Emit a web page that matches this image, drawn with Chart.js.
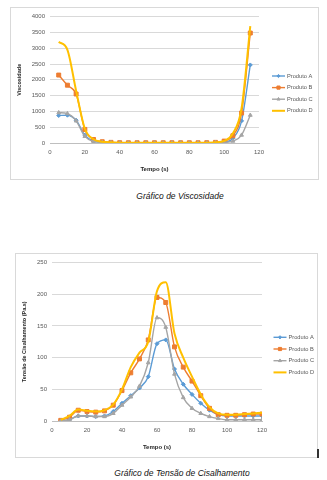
<!DOCTYPE html>
<html>
<head>
<meta charset="utf-8">
<script src="https://cdn.jsdelivr.net/npm/chart.js@4/dist/chart.umd.min.js"></script>
<style>
  body{margin:0;width:327px;height:480px;background:#fff;position:relative;overflow:hidden;font-family:"Liberation Sans",Arial,sans-serif;}
  .quadro{position:absolute;border:1px solid #d9d9d9;background:#fff;box-sizing:border-box;}
  .legenda{position:absolute;font-style:italic;font-size:8.5px;color:#111;white-space:nowrap;transform:translateX(-50%);}
  #marca{position:absolute;left:317px;top:449px;width:2px;height:9px;background:#333;}
</style>
</head>
<body>
<div class="quadro" id="q1" style="left:10px;top:7px;width:309px;height:173px;"><canvas id="visc"></canvas></div>
<div class="legenda" style="left:180px;top:191px;">Gráfico de Viscosidade</div>
<div class="quadro" id="q2" style="left:15px;top:253px;width:303px;height:205px;"><canvas id="tensao"></canvas></div>
<div class="legenda" style="left:182px;top:468px;">Gráfico de Tensão de Cisalhamento</div>
<div id="marca"></div>
<script>
// dados
const tempoVisc = [5,10,15,20,25,30,35,40,45,50,55,60,65,70,75,80,85,90,95,100,105,110,115];
const viscA = [870,880,720,250,60,20,10,8,5,5,5,5,5,5,5,5,5,8,10,20,150,700,2470];
const viscB = [2150,1830,1550,430,110,40,20,10,8,8,8,8,8,8,8,8,8,10,20,60,230,950,3480];
const viscC = [960,930,700,210,50,20,10,5,5,5,5,5,5,5,5,5,5,5,10,20,60,250,880];
const viscD = [3200,2950,1650,450,120,40,20,10,8,8,8,8,8,8,8,8,8,10,20,70,300,1100,3700];

const tempoTensao = [5,10,15,20,25,30,35,40,45,50,55,60,65,70,75,80,85,90,95,100,105,110,115,120];
const tensaoA = [0,2,8,8,7,8,15,28,40,52,70,122,128,82,58,42,28,17,10,8,8,8,8,8];
const tensaoB = [1,6,17,15,14,16,25,48,76,98,128,195,187,117,85,63,40,20,10,9,9,10,11,11];
const tensaoC = [0,2,8,8,7,7,12,25,38,55,92,163,148,74,37,20,12,7,4,2,2,2,2,2];
const tensaoD = [2,8,18,16,15,17,26,50,85,108,125,205,219,138,100,70,42,22,12,10,10,11,12,13];

const produtos = ["Produto A","Produto B","Produto C","Produto D"];
const cores = ["#5B9BD5","#ED7D31","#A5A5A5","#FFC000"];
const marcadores = ["rectRot","rect","triangle",false];
const raios = [2,2.8,2.2,0];

const fonte = {family:"'Liberation Sans', Arial, sans-serif", size:6};

function series(tempo, valores){
  return valores.map((v,i)=>({
    label: produtos[i],
    data: tempo.map((t,j)=>({x:t,y:v[j]})),
    borderColor: cores[i],
    backgroundColor: cores[i],
    borderWidth: i==3 ? 2 : 1.4,
    pointStyle: marcadores[i],
    pointRadius: raios[i],
    pointBorderWidth: 1,
    cubicInterpolationMode: "monotone",
    order: 3-i
  }));
}

// legenda no estilo do Excel (linha com marcador)
const legendaLateral = {
  id: "legendaLateral",
  afterDraw(chart, args, opts){
    const ctx = chart.ctx;
    ctx.save();
    chart.data.datasets.forEach((ds,i)=>{
      const y = opts.y + i*opts.gap;
      ctx.strokeStyle = ds.borderColor;
      ctx.lineWidth = ds.borderWidth;
      ctx.beginPath();
      ctx.moveTo(opts.x, y);
      ctx.lineTo(opts.x+13, y);
      ctx.stroke();
      if(ds.pointStyle){
        ctx.fillStyle = ds.backgroundColor;
        ctx.strokeStyle = ds.borderColor;
        ctx.lineWidth = 1;
        Chart.helpers.drawPoint(ctx,{pointStyle:ds.pointStyle,radius:ds.pointRadius*0.8,borderWidth:1,rotation:0},opts.x+6.5,y);
      }
      ctx.fillStyle = "#595959";
      ctx.font = "5.7px 'Liberation Sans', Arial, sans-serif";
      ctx.textBaseline = "middle";
      ctx.fillText(ds.label, opts.x+15, y);
    });
    ctx.restore();
  }
};

function grafico(id, tempo, valores, cfg){
  new Chart(document.getElementById(id),{
    type: "line",
    data: {datasets: series(tempo, valores)},
    plugins: [legendaLateral],
    options: {
      responsive: false,
      animation: false,
      layout: {padding: cfg.padding},
      plugins: {
        legend: {display:false},
        tooltip: {enabled:false},
        legendaLateral: cfg.legenda
      },
      scales: {
        x: {
          type: "linear",
          min: 0, max: 120,
          ticks: {stepSize:20, color:"#595959", font:fonte, padding:6, callback:v=>String(v)},
          grid: {display:false, drawTicks:false},
          border: {color:"#bfbfbf"},
          title: {display:true, text:"Tempo (s)", color:"#262626", font:{...fonte, weight:"bold"}, padding:{top:5,bottom:0}},
          afterFit: s=>{ s.height = cfg.alturaX; }
        },
        y: {
          min: 0, max: cfg.maxY,
          ticks: {stepSize:cfg.passoY, color:"#595959", font:fonte, padding:5, callback:v=>String(v)},
          grid: {color:"#d9d9d9", drawTicks:false},
          border: {display:false},
          title: {display:true, text:cfg.tituloY, color:"#262626", font:{...fonte, size:5.5, weight:"bold"}, padding:{top:0,bottom:6}},
          afterFit: s=>{ s.width = cfg.larguraY; }
        }
      }
    }
  });
}

const c1 = document.getElementById("visc");
c1.width = 307; c1.height = 171;
grafico("visc", tempoVisc, [viscA,viscB,viscC,viscD], {
  maxY: 4000, passoY: 500, tituloY: "Viscosidade",
  padding: {left:5, right:59, top:7, bottom:6},
  larguraY: 34, alturaX: 30,
  legenda: {x:261, y:68, gap:11.6}
});

const c2 = document.getElementById("tensao");
c2.width = 301; c2.height = 203;
grafico("tensao", tempoTensao, [tensaoA,tensaoB,tensaoC,tensaoD], {
  maxY: 250, passoY: 50, tituloY: "Tensão de Cisalhamento (Pa.s)",
  padding: {left:5, right:55, top:7, bottom:6},
  larguraY: 31, alturaX: 30,
  legenda: {x:257.5, y:83.3, gap:11.7}
});
</script>
</body>
</html>
